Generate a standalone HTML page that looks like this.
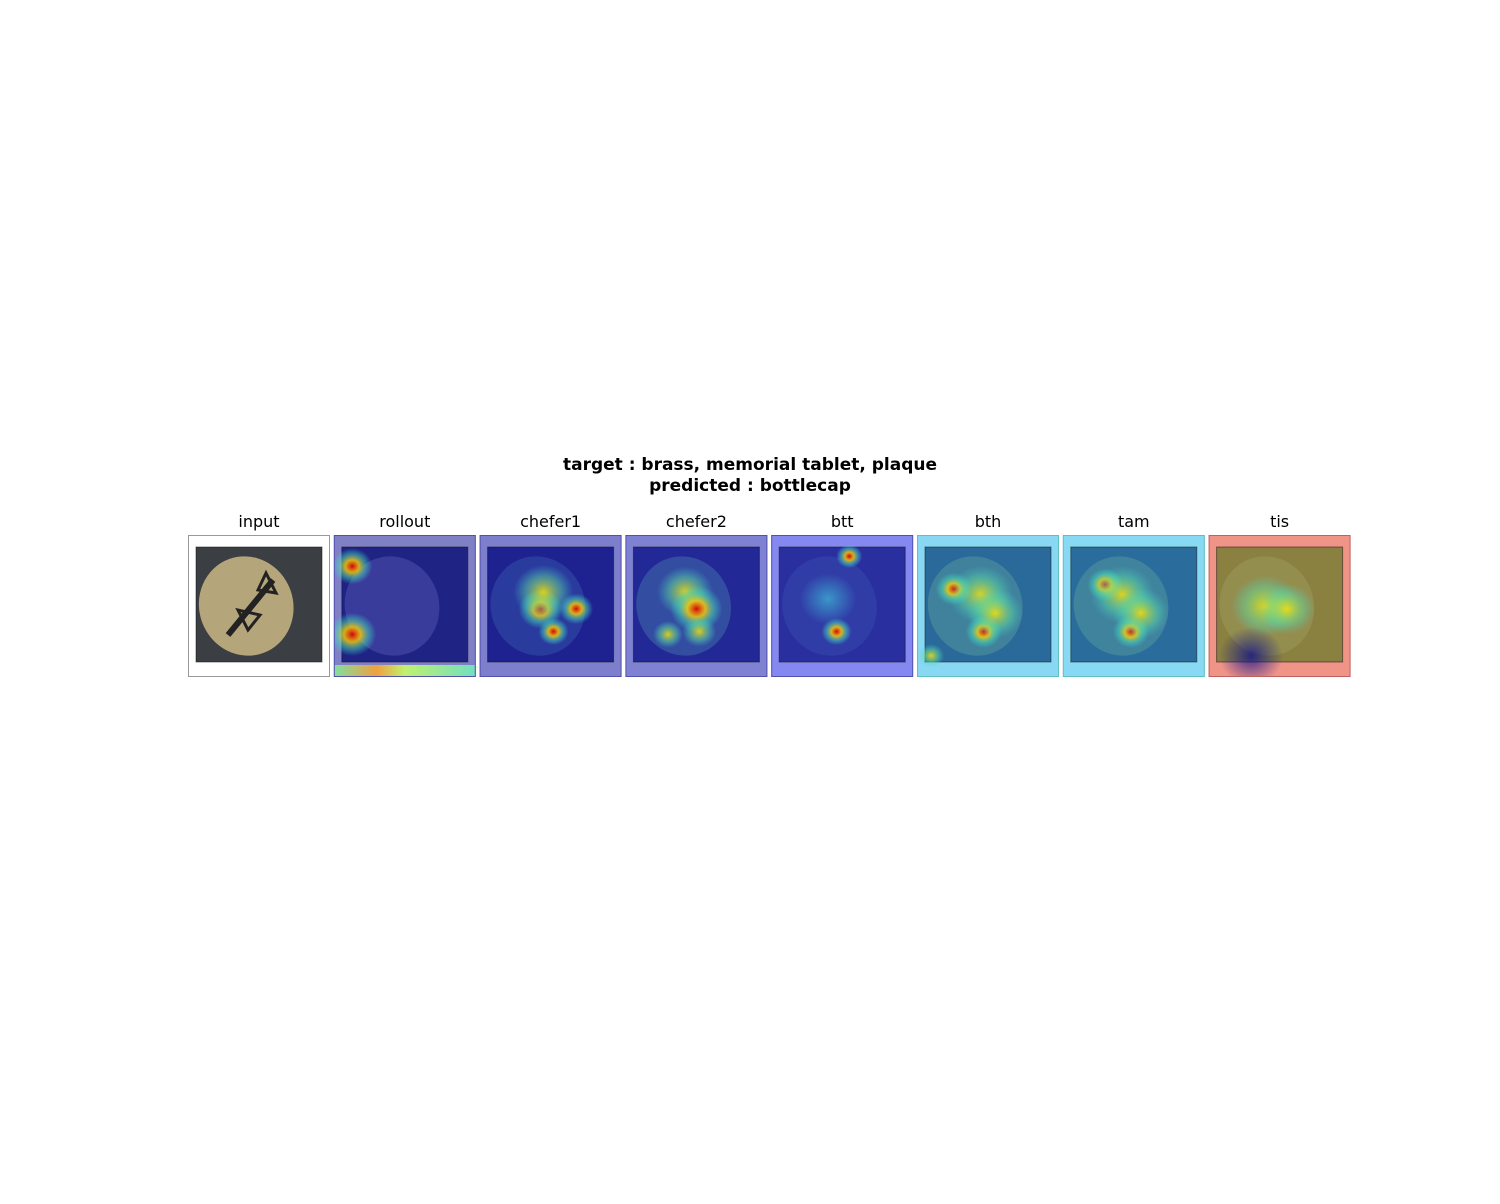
<!DOCTYPE html>
<html><head><meta charset="utf-8"><style>
html,body{margin:0;padding:0;background:#fff;}
body{width:1500px;height:1200px;overflow:hidden;font-family:"DejaVu Sans","Liberation Sans",sans-serif;}
</style></head><body>
<svg id="fig" width="1500" height="1200" xmlns="http://www.w3.org/2000/svg">
<defs>
<radialGradient id="hotR"><stop offset="0" stop-color="#e00000" stop-opacity="0.95"/><stop offset="0.35" stop-color="#ffd000" stop-opacity="0.8"/><stop offset="0.7" stop-color="#40e0c0" stop-opacity="0.45"/><stop offset="1" stop-color="#40e0c0" stop-opacity="0"/></radialGradient>
<radialGradient id="hotY"><stop offset="0" stop-color="#ffe000" stop-opacity="0.85"/><stop offset="0.6" stop-color="#60e0a0" stop-opacity="0.45"/><stop offset="1" stop-color="#40d0d0" stop-opacity="0"/></radialGradient>
<radialGradient id="hotC"><stop offset="0" stop-color="#40d0e0" stop-opacity="0.6"/><stop offset="1" stop-color="#40d0e0" stop-opacity="0"/></radialGradient>
<radialGradient id="coldB"><stop offset="0" stop-color="#10108a" stop-opacity="0.8"/><stop offset="1" stop-color="#10108a" stop-opacity="0"/></radialGradient>
<linearGradient id="rollBottom" x1="0" y1="0" x2="1" y2="0"><stop offset="0" stop-color="#80e0a0"/><stop offset="0.3" stop-color="#f0a040"/><stop offset="0.5" stop-color="#c0f070"/><stop offset="1" stop-color="#70e0c0"/></linearGradient>
</defs>
<text x="750" y="470" text-anchor="middle" font-size="17" font-weight="bold">target : brass, memorial tablet, plaque</text>
<text x="750" y="491" text-anchor="middle" font-size="17" font-weight="bold">predicted : bottlecap</text>
<g id="panels"></g>
</svg>
<script>
const names=["input","rollout","chefer1","chefer2","btt","bth","tam","tis"];
const outerColors=["#ffffff","#7f80c6","#7d7fcc","#7f82d2","#8488f0","#88d8f4","#88daf4","#f09488"];
const innerColors=["#3b3e42","#1f2384","#1e2290","#222896","#2a2fa0","#2a6a9a","#2a6c9c","#8a8040"];
const coinColors=["#b5a57a","#5a5ab8","#3a5ab0","#4a7ab0","#3a50b0","#5aa0a0","#5aa0a0","#a0a060"];
const spotPanel=[1,1,2,2,2,2,3,3,3,3,4,4,4,5,5,5,5,5,6,6,6,6,7,7,7];
const spotX=[0.13,0.13,0.43,0.68,0.52,0.45,0.42,0.50,0.52,0.30,0.55,0.46,0.40,0.26,0.47,0.45,0.55,0.10,0.30,0.48,0.42,0.55,0.40,0.55,0.30];
const spotY=[0.22,0.70,0.52,0.52,0.68,0.40,0.40,0.52,0.68,0.70,0.15,0.68,0.45,0.38,0.68,0.42,0.55,0.85,0.35,0.68,0.42,0.55,0.50,0.52,0.85];
const spotR=[20,24,22,17,15,30,28,26,17,15,13,15,28,18,18,32,28,13,18,18,32,28,34,28,32];
const spotT=["hotR","hotR","hotR","hotR","hotR","hotY","hotY","hotR","hotY","hotY","hotR","hotR","hotC","hotR","hotR","hotY","hotY","hotY","hotR","hotR","hotY","hotY","hotY","hotY","coldB"];
const NS="http://www.w3.org/2000/svg";
const g=document.getElementById('panels');
const W=142,T=535,x0=188,step=145.8;
function mk(tag,attrs,parent){const e=document.createElementNS(NS,tag);for(const k in attrs)e.setAttribute(k,attrs[k]);parent.appendChild(e);return e;}
names.forEach((n,i)=>{
  const x=x0+i*step;
  const pg=mk('g',{},g);
  
  
  const t=mk('text',{x:x+W/2,y:T-8,'text-anchor':'middle','font-size':'16'},pg);
  t.textContent=n;
  
  
  const cid='clip'+i;
  const cp=mk('clipPath',{id:cid},pg);mk('rect',{x:x,y:T,width:W,height:W},cp);
  const cg=mk('g',{'clip-path':'url(#'+cid+')'},pg);
  mk('rect',{x:x,y:T,width:W,height:W,fill:outerColors[i]},cg);
  if(i==1){mk('rect',{x:x,y:T+W-12,width:W,height:12,fill:'url(#rollBottom)'},cg);}
  mk('rect',{x:x+8,y:T+12,width:126,height:115,fill:innerColors[i],stroke:'#111',"stroke-opacity":0.5},cg);
  mk('ellipse',{cx:x+W*0.41,cy:T+W*0.5,rx:47,ry:50,fill:coinColors[i],opacity:i==0?1:0.45,transform:'rotate(-20 '+(x+W*0.41)+' '+(T+W*0.5)+')'},cg);
  if(i==0){
    mk('path',{d:`M${x+40} ${T+100} L${x+85} ${T+45}`,stroke:'#222',"stroke-width":6},cg);
    mk('path',{d:`M${x+60} ${T+95} L${x+50} ${T+75} L${x+72} ${T+80}Z`,fill:'none',stroke:'#222',"stroke-width":3},cg);
    mk('path',{d:`M${x+70} ${T+55} L${x+78} ${T+38} L${x+88} ${T+58}Z`,fill:'none',stroke:'#222',"stroke-width":3},cg);
  }
  spotPanel.forEach((p,k)=>{
    if(p!==i)return;
    const c=mk('ellipse',{cx:x+spotX[k]*W,cy:T+spotY[k]*W,rx:spotR[k],ry:spotR[k]*0.9,fill:'url(#'+spotT[k]+')'},cg);
    
    
  });
  const b=mk('rect',{x:x+0.5,y:T+0.5,width:W-1,height:W-1,fill:'none',stroke:i==0?'#999':(i==7?'#c06060':(i>=5?'#60c0c0':'#5050b0')),"stroke-width":1},pg);
  
  
});
</script>
</body></html>
